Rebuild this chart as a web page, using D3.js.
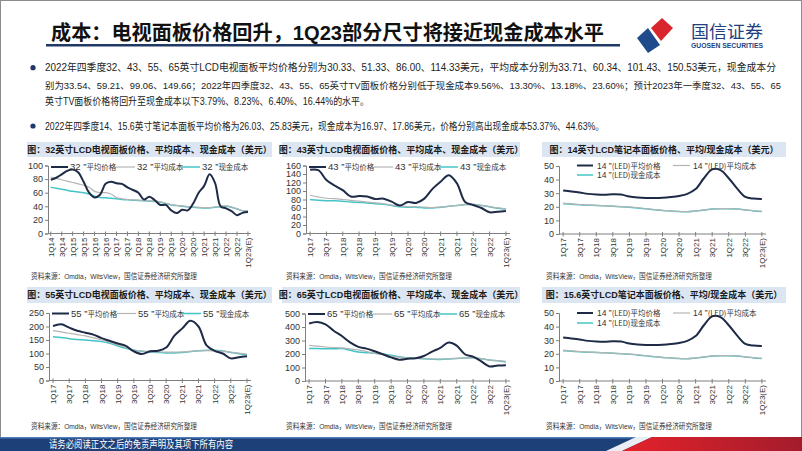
<!DOCTYPE html>
<html>
<head>
<meta charset="utf-8">
<script src="https://cdn.jsdelivr.net/npm/d3@7/dist/d3.min.js"></script>
<style>
  body { margin: 0; background: #fff; }
  svg { display: block; }
  text { font-family: "Liberation Sans", "Noto Sans CJK SC", sans-serif; }
</style>
</head>
<body>
<div id="slide"></div>
<script>
// quarters, 1Q14 .. 1Q23(E)
const quarters = ["1Q14","2Q14","3Q14","4Q14","1Q15","2Q15","3Q15","4Q15","1Q16","2Q16","3Q16","4Q16",
  "1Q17","2Q17","3Q17","4Q17","1Q18","2Q18","3Q18","4Q18","1Q19","2Q19","3Q19","4Q19",
  "1Q20","2Q20","3Q20","4Q20","1Q21","2Q21","3Q21","4Q21","1Q22","2Q22","3Q22","4Q22","1Q23(E)"]
const quarters17 = quarters.slice(12)

// 32" TV panel (USD)
const tv32Price = [79,82,87,92,94,90,76,60,53,57,73,76,74,73,68,64,60,50,54,49,42,42,34,30,35,34,44,60,70,87,74,40,37,33,27,30.33,31.5]
const tv32Avg   = [83,81,79,77,75,73,71,68,62,60,60,58,53,51,50,49.5,49,48.5,48,47.5,46.5,44.5,42.5,41.5,40.5,39.5,39,38.5,38,38,39,40,40.5,39,36.5,33.71,33.2]
const tv32Cash  = [68,66.5,65,63.5,62,61,60,58,55,53,52.5,52,51,50,49.5,49,48.5,48,47.5,47,46,44,42,41,40,39,38.5,38,37.5,37.5,38.5,39.5,40,38.5,36,33.54,33]

// 43" TV panel
const tv43Price = [150,149,126,113,102,87,88,87,81,82,75,66,74,72,82,105,122,137,118,74,67,60,50,51.33,53]
const tv43Avg   = [90,86,83,82,80,78,76,74,72,70,67,65,63,63,62,61,62,64,66,68,68,66,63,60.34,58]
const tv43Cash  = [80,78,77,77,76,74,73,72,70,69,66,63,62,62,60,60,62,64,66,68,68,66,63,59.21,57.5]

// 55" TV panel
const tv55Price = [202,208,196,184,177,170,157,147,137,128,108,98,108,110,122,165,193,221,200,130,110,100,82,86,90]
const tv55Avg   = [185,180,175,170,165,158,150,142,132,122,113,109,107,106,105,105,106,108,110,111,110,108,105,101.43,98]
const tv55Cash  = [162,159,155,152,150,147,144,138,128,119,112,108,106,104,102,102,104,107,110,112,112,109,104,99.06,95]

// 65" TV panel
const tv65Price = [426,437,420,372,333,286,253,240,220,198,175,158,165,168,185,218,245,285,262,198,180,145,108,114.33,117]
const tv65Avg   = [265,258,252,248,245,238,230,218,205,195,185,175,170,168,165,163,163,165,168,172,172,165,155,150.53,145]
const tv65Cash  = [240,240,239,238,240,228,215,210,205,198,190,180,172,168,165,162,160,163,167,170,172,165,155,149.66,140]

// 14" notebook panel (the 15.6" chart in the source shows the same series)
const nb14Price = [32,31.3,30.5,29.5,29,28.8,29.2,29,27.5,26.8,26.5,26.5,26.7,27.2,28,29.5,33,41,47.5,47,41,33.5,27.3,26.03,25.8]
const nb14Avg   = [22.7,22.1,21.7,21.3,21.1,20.8,20.5,20.2,19.8,19.3,18.6,18,17.4,17,16.6,16.4,17,17.7,18.4,18.6,18.6,18.4,17.8,17.1,16.6]
const nb14Cash  = [22.3,21.9,21.5,21.2,21,20.7,20.4,20.1,19.7,19.2,18.5,17.9,17.3,16.9,16.5,16.3,16.9,17.6,18.3,18.5,18.5,18.3,17.7,16.97,16.5]

const pageTitle = "成本：电视面板价格回升，1Q23部分尺寸将接近现金成本水平"
const paraLines = [
  "2022年四季度32、43、55、65英寸LCD电视面板平均价格分别为30.33、51.33、86.00、114.33美元，平均成本分别为33.71、60.34、101.43、150.53美元，现金成本分",
  "别为33.54、59.21、99.06、149.66；2022年四季度32、43、55、65英寸TV面板价格分别低于现金成本9.56%、13.30%、13.18%、23.60%；预计2023年一季度32、43、55、65",
  "英寸TV面板价格将回升至现金成本以下3.79%、8.23%、6.40%、16.44%的水平。",
  "2022年四季度14、15.6英寸笔记本面板平均价格为26.03、25.83美元，现金成本为16.97、17.86美元，价格分别高出现金成本53.37%、44.63%。"
]
const sourceText = "资料来源：Omdia，WitsView，国信证券经济研究所整理"
const footerText = "请务必阅读正文之后的免责声明及其项下所有内容"

const cjk = '"Noto Sans CJK SC", sans-serif'
const navy = "#1e2b47", grey = "#b4b4b4", teal = "#45c4c7"

const svg = d3.select("#slide").append("svg")
    .attr("width", 802)
    .attr("height", 451)

svg.append("rect")
    .attr("x", 0.5).attr("y", 0.5)
    .attr("width", 801).attr("height", 450)
    .attr("fill", "#fff").attr("stroke", "#8c8c8c")

// header
svg.append("text")
    .attr("x", 51).attr("y", 40)
    .attr("font-family", cjk).attr("font-weight", 700).attr("font-size", 20)
    .attr("textLength", 553).attr("lengthAdjust", "spacingAndGlyphs")
    .attr("fill", "#111")
    .text(pageTitle)

svg.append("rect")
    .attr("x", 46).attr("y", 44)
    .attr("width", 574).attr("height", 2.5)
    .attr("fill", "#1f3864")

// logo
const logo = svg.append("g")
logo.append("polygon")
    .attr("points", "651,28 662,18 673,28 661,41")
    .attr("fill", "#d7262e")
logo.append("polygon")
    .attr("points", "637,38 648,28 660,45 648,53")
    .attr("fill", "#1f4a8c")
logo.append("text")
    .attr("x", 691).attr("y", 38)
    .attr("font-family", cjk).attr("font-size", 17)
    .attr("textLength", 72).attr("lengthAdjust", "spacingAndGlyphs")
    .attr("fill", "#1f3f7f")
    .text("国信证券")
logo.append("text")
    .attr("x", 691).attr("y", 47.5)
    .attr("font-size", 6.3).attr("font-weight", 700)
    .attr("textLength", 72).attr("lengthAdjust", "spacingAndGlyphs")
    .attr("fill", "#1f3f7f")
    .text("GUOSEN SECURITIES")

// paragraph
const lineY = [67.7, 85, 101.7, 126]
const lineW = [731, 736, 324, 559]
const lineF = [10, 9.3, 10, 10]
paraLines.forEach((t, i) => {
  svg.append("text")
      .attr("x", 45).attr("y", lineY[i] + 3.6)
      .attr("font-family", cjk).attr("font-size", lineF[i])
      .attr("textLength", lineW[i]).attr("lengthAdjust", "spacingAndGlyphs")
      .attr("fill", "#222")
      .text(t)
})
;[67.7, 126].forEach(y => {
  svg.append("circle").attr("cx", 33).attr("cy", y).attr("r", 2.6).attr("fill", "#1f3864")
})

// footer band
const grad = svg.append("defs").append("linearGradient")
    .attr("id", "redg").attr("x1", 0).attr("x2", 1)
grad.append("stop").attr("offset", 0).attr("stop-color", "#e3222b")
grad.append("stop").attr("offset", 1).attr("stop-color", "#a31c2c")

svg.append("rect")
    .attr("x", 0).attr("y", 437).attr("width", 802).attr("height", 14)
    .attr("fill", "#1d4079")
svg.append("rect")
    .attr("x", 0).attr("y", 437).attr("width", 802).attr("height", 1.5)
    .attr("fill", "#4f7bb8")
svg.append("polygon")
    .attr("points", "606,451 636,437 652,437 622,451")
    .attr("fill", "#e9eef5")
svg.append("polygon")
    .attr("points", "622,451 652,437 802,437 802,451")
    .attr("fill", "url(#redg)")
svg.append("text")
    .attr("x", 49).attr("y", 447.5)
    .attr("font-family", cjk).attr("font-size", 10)
    .attr("textLength", 184).attr("lengthAdjust", "spacingAndGlyphs")
    .attr("fill", "#fff")
    .text(footerText)

function drawChart(c) {
  const g = svg.append("g")

  g.append("rect")
      .attr("x", c.bar[0]).attr("y", c.barY[0])
      .attr("width", c.bar[1] - c.bar[0]).attr("height", c.barY[1] - c.barY[0])
      .attr("fill", "#dce6f2")
  g.append("text")
      .attr("x", (c.bar[0] + c.bar[1]) / 2).attr("y", (c.barY[0] + c.barY[1]) / 2 + 3.3)
      .attr("text-anchor", "middle")
      .attr("font-family", cjk).attr("font-weight", 700).attr("font-size", 9)
      .attr("fill", "#1a1a1a")
      .text(c.title)

  const x = d3.scalePoint()
      .domain(c.cats)
      .range([c.axisX, c.plotEnd])
      .padding(0.5)
  const y = d3.scaleLinear()
      .domain([0, c.yMax])
      .range([c.yBot, c.yTop])

  // y axis
  const ticks = d3.range(0, c.yMax + 0.001, c.yStep)
  const yAxis = g.append("g")
      .attr("transform", `translate(${c.axisX},0)`)
      .call(d3.axisLeft(y).tickValues(ticks).tickSize(3).tickPadding(2))
  yAxis.select(".domain").attr("stroke", "#7f7f7f")
  yAxis.selectAll(".tick line").attr("stroke", "#7f7f7f")
  yAxis.selectAll(".tick text")
      .attr("font-size", 9).attr("fill", "#333")
      .attr("font-family", '"Liberation Sans", sans-serif')

  // x axis
  const labelled = c.cats.filter((d, i) => i % 2 === 0)
  g.append("line")
      .attr("x1", c.axisX).attr("x2", c.plotEnd)
      .attr("y1", c.yBot).attr("y2", c.yBot)
      .attr("stroke", "#7f7f7f")
  g.selectAll(".xt").data(labelled).join("line")
      .attr("x1", d => x(d)).attr("x2", d => x(d))
      .attr("y1", c.yBot - 2).attr("y2", c.yBot + 2.5)
      .attr("stroke", "#7f7f7f")
  g.selectAll(".xl").data(labelled).join("text")
      .attr("transform", d => `translate(${x(d) + 3},${c.yBot + 4}) rotate(-90)`)
      .attr("text-anchor", "end")
      .attr("font-size", 8).attr("fill", "#333")
      .text(d => d)

  // series
  const line = d3.line()
      .x((d, i) => x(c.cats[i]))
      .y(d => y(d))
      .curve(d3.curveCatmullRom.alpha(0.5))
  c.series.slice().reverse().forEach(s => {
    g.append("path")
        .datum(s.vals)
        .attr("d", line)
        .attr("fill", "none")
        .attr("stroke", s.color)
        .attr("stroke-width", s.width)
  })

  // legend
  c.series.forEach((s, i) => {
    const p = c.legend[i]
    g.append("line")
        .attr("x1", c.axisX + p[0]).attr("x2", c.axisX + p[1])
        .attr("y1", p[3]).attr("y2", p[3])
        .attr("stroke", s.color).attr("stroke-width", s.width)
    const t = g.append("text")
        .attr("x", c.axisX + p[2]).attr("y", p[3] + 3.2)
        .attr("fill", "#333")
    t.append("tspan").attr("font-size", c.legendSize).text(s.label[0])
    t.append("tspan").attr("font-size", 7.5).attr("font-family", cjk).text(s.label[1])
  })

  g.append("text")
      .attr("x", c.bar[0] + 4).attr("y", c.srcY)
      .attr("font-family", cjk).attr("font-size", 7.5)
      .attr("textLength", 166).attr("lengthAdjust", "spacingAndGlyphs")
      .attr("fill", "#333")
      .text(sourceText)
}

function tvSeries(sz, p, a, k) {
  return [
    { vals: p, color: navy, width: 2, label: [sz + " \u201D", "平均价格"] },
    { vals: a, color: grey, width: 1.2, label: [sz + " \u201D", "平均成本"] },
    { vals: k, color: teal, width: 1.5, label: [sz + " \u201D", "现金成本"] }
  ]
}
function nbSeries(p, a, k) {
  return [
    { vals: p, color: navy, width: 2, label: ["14 \u201D", "(LED)平均价格"] },
    { vals: a, color: grey, width: 1.2, label: ["14 \u201D", "(LED)平均成本"] },
    { vals: k, color: teal, width: 1.5, label: ["14 \u201D", "(LED)现金成本"] }
  ]
}
const rowLegend = ly => [[3, 20, 22, ly], [68, 87, 89, ly], [133, 152, 154, ly]]
const nbLegend = (l1, l2) => [[18, 34, 38, l1], [114, 131, 134, l1], [18, 34, 38, l2]]

const charts = [
  { title: "图：32英寸LCD电视面板价格、平均成本、现金成本（美元）", bar: [27, 272], barY: [142, 157],
    axisX: 48, plotEnd: 250.7, yTop: 165.5, yBot: 233.5, yMax: 100, yStep: 20, cats: quarters,
    series: tvSeries("32", tv32Price, tv32Avg, tv32Cash), legend: rowLegend(167), legendSize: 9.5, srcY: 279 },
  { title: "图：43英寸LCD电视面板价格、平均成本、现金成本（美元）", bar: [282, 520], barY: [142, 157],
    axisX: 306, plotEnd: 510, yTop: 165.5, yBot: 233.5, yMax: 160, yStep: 20, cats: quarters17,
    series: tvSeries("43", tv43Price, tv43Avg, tv43Cash), legend: rowLegend(167), legendSize: 9.5, srcY: 279 },
  { title: "图：14英寸LCD笔记本面板价格、平均/现金成本（美元）", bar: [542, 786], barY: [142, 157],
    axisX: 559, plotEnd: 766, yTop: 166, yBot: 234, yMax: 50, yStep: 10, cats: quarters17,
    series: nbSeries(nb14Price, nb14Avg, nb14Cash), legend: nbLegend(165.5, 175), legendSize: 8.5, srcY: 279 },
  { title: "图：55英寸LCD电视面板价格、平均成本、现金成本（美元）", bar: [27, 272], barY: [287, 303],
    axisX: 49, plotEnd: 251, yTop: 313, yBot: 380.5, yMax: 250, yStep: 50, cats: quarters17,
    series: tvSeries("55", tv55Price, tv55Avg, tv55Cash), legend: rowLegend(313.5), legendSize: 9.5, srcY: 429 },
  { title: "图：65英寸LCD电视面板价格、平均成本、现金成本（美元）", bar: [282, 520], barY: [287, 303],
    axisX: 305, plotEnd: 510, yTop: 313.5, yBot: 381, yMax: 500, yStep: 100, cats: quarters17,
    series: tvSeries("65", tv65Price, tv65Avg, tv65Cash), legend: rowLegend(314), legendSize: 9.5, srcY: 429 },
  { title: "图：15.6英寸LCD笔记本面板价格、平均/现金成本（美元）", bar: [542, 786], barY: [287, 303],
    axisX: 559, plotEnd: 766, yTop: 313, yBot: 381, yMax: 50, yStep: 10, cats: quarters17,
    series: nbSeries(nb14Price, nb14Avg, nb14Cash), legend: nbLegend(313, 323), legendSize: 8.5, srcY: 429 }
]
charts.forEach(drawChart)
</script>
</body>
</html>
